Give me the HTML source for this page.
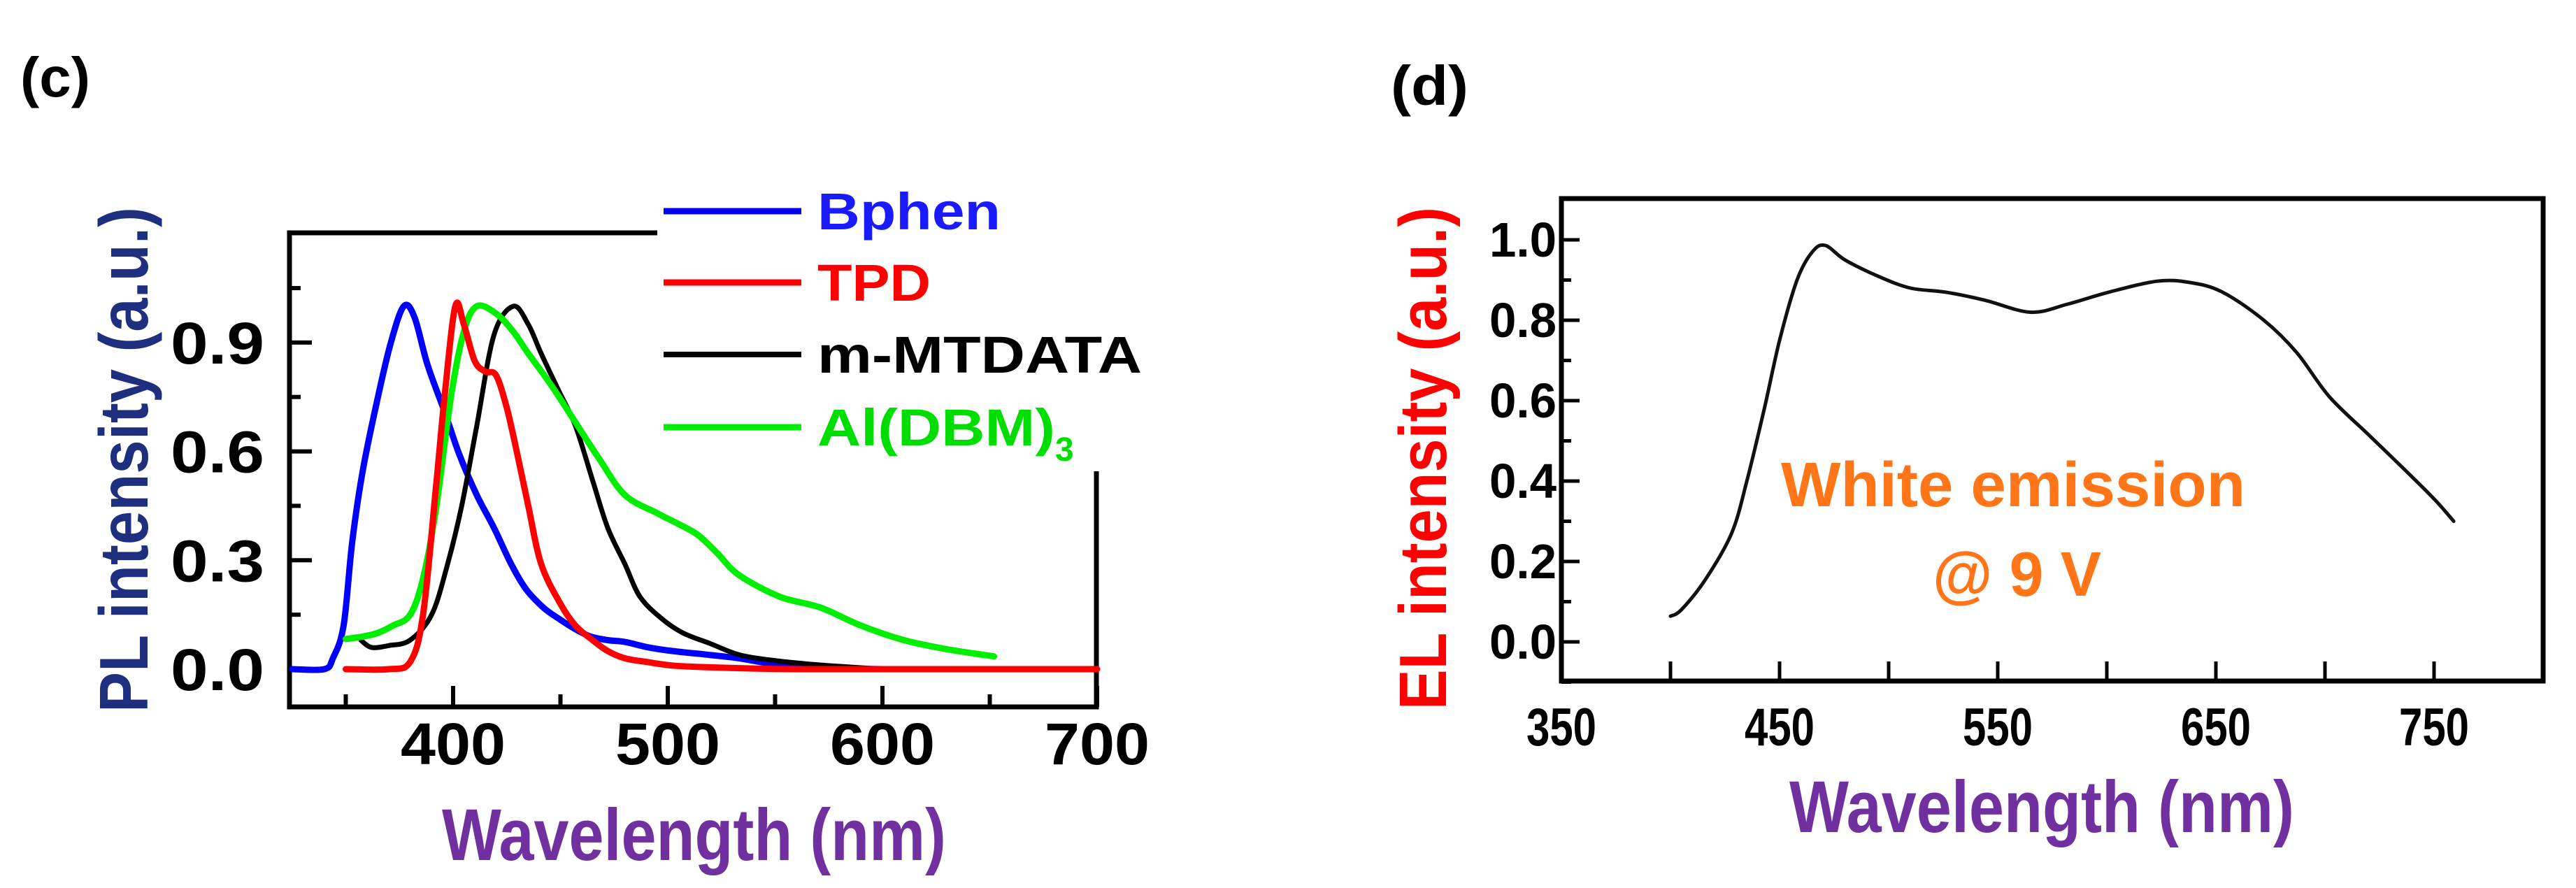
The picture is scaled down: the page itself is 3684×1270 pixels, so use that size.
<!DOCTYPE html>
<html><head><meta charset="utf-8"><style>
html,body{margin:0;padding:0;background:#fff;}
svg{display:block;}
text{font-family:"Liberation Sans",sans-serif;font-weight:bold;}
</style></head><body>
<svg id="fig" width="3684" height="1270" viewBox="0 0 3684 1270" xmlns="http://www.w3.org/2000/svg">
<rect width="3684" height="1270" fill="#fff"/>
<g id="panelC">
<text x="29" y="138" font-size="80" textLength="100" lengthAdjust="spacingAndGlyphs">(c)</text>
<path d="M940,333 H414 V1011 H1568 V674" fill="none" stroke="#000" stroke-width="7"/>
<g id="cTicks"></g>
<g id="cCurves"></g>
<text transform="translate(211,1019) rotate(-90)" font-size="98" fill="#1f2f80" textLength="723" lengthAdjust="spacingAndGlyphs">PL intensity (a.u.)</text>
<text x="632" y="1230" font-size="105" fill="#7030a0" textLength="721" lengthAdjust="spacingAndGlyphs">Wavelength (nm)</text>
<g>
<line x1="949" y1="302" x2="1146" y2="302" stroke="#0000ff" stroke-width="9"/>
<text x="1169" y="328" font-size="74" fill="#1a1aff" textLength="262" lengthAdjust="spacingAndGlyphs">Bphen</text>
<line x1="949" y1="404" x2="1146" y2="404" stroke="#ff0000" stroke-width="9"/>
<text x="1169" y="430" font-size="74" fill="#ff0000" textLength="162" lengthAdjust="spacingAndGlyphs">TPD</text>
<line x1="949" y1="507" x2="1146" y2="507" stroke="#000" stroke-width="8"/>
<text x="1169" y="533" font-size="74" fill="#000" textLength="464" lengthAdjust="spacingAndGlyphs">m-MTDATA</text>
<line x1="949" y1="611" x2="1146" y2="611" stroke="#00ee00" stroke-width="9"/>
<text x="1169" y="637" font-size="74" fill="#00dd00"><tspan textLength="340" lengthAdjust="spacingAndGlyphs">Al(DBM)</tspan><tspan font-size="48" dy="22">3</tspan></text>
</g>
</g>
<g id="panelD">
<text x="1989" y="150" font-size="80" textLength="111" lengthAdjust="spacingAndGlyphs">(d)</text>
<rect x="2233" y="284" width="1404" height="690" fill="none" stroke="#000" stroke-width="7"/>
<g id="dTicks"></g>
<g id="dCurves"></g>
<text transform="translate(2068,1015) rotate(-90)" font-size="96" fill="#ff0000" textLength="719" lengthAdjust="spacingAndGlyphs">EL intensity (a.u.)</text>
<text x="2559" y="1190" font-size="105" fill="#7030a0" textLength="722" lengthAdjust="spacingAndGlyphs">Wavelength (nm)</text>
<text x="2547" y="724" font-size="90" fill="#ff7518" textLength="664" lengthAdjust="spacingAndGlyphs">White emission</text>
<text x="2764" y="852" font-size="90" fill="#ff7518" textLength="241" lengthAdjust="spacingAndGlyphs">@ 9 V</text>
</g>
</svg>
<script>
// ---- Panel (c) data ----
const cXTicks = [400, 500, 600, 700];
const cYTicks = [0.0, 0.3, 0.6, 0.9];
const cYTickLabels = ["0.0", "0.3", "0.6", "0.9"];
const bphenX = [325,340,344,349,353,358,365,371,377,382,388,396,403,411,419,427,434,442,449,457,464,472,480,491,502,518,533,548,564,582,600];
const bphenY = [0,0,0.03,0.12,0.35,0.55,0.75,0.9,1.0,0.97,0.84,0.71,0.59,0.48,0.39,0.29,0.22,0.17,0.14,0.11,0.09,0.08,0.075,0.06,0.05,0.04,0.03,0.015,0.005,0.002,0];
const tpdX = [350,370,380,386,392,396,401,405,410,415,420,425,430,435,441,450,457,465,472,480,490,502,520,560,620,700];
const tpdY = [0,0,0.02,0.15,0.5,0.75,1.0,0.95,0.85,0.82,0.81,0.72,0.59,0.45,0.29,0.18,0.12,0.08,0.05,0.03,0.02,0.01,0.005,0,0,0];
const mtdX = [357,362,370,380,390,397,404,411,419,428,435,441,449,457,465,472,480,487,497,507,520,533,548,564,582,600];
const mtdY = [0.08,0.06,0.065,0.08,0.15,0.28,0.45,0.67,0.92,1.0,0.95,0.87,0.77,0.67,0.52,0.39,0.29,0.2,0.14,0.1,0.07,0.04,0.025,0.015,0.007,0];
const aldX = [350,358,365,372,380,386,392,399,405,411,420,428,435,446,457,468,480,495,505,514,523,533,552,571,590,610,630,652];
const aldY = [0.083,0.09,0.1,0.12,0.15,0.25,0.44,0.75,0.93,1.0,0.98,0.93,0.87,0.78,0.68,0.58,0.48,0.43,0.4,0.37,0.32,0.26,0.2,0.17,0.12,0.08,0.055,0.035];
// ---- Panel (d) data ----
const dXTicks = [350, 450, 550, 650, 750];
const dYTicks = [0.0, 0.2, 0.4, 0.6, 0.8, 1.0];
const dYTickLabels = ["0.0", "0.2", "0.4", "0.6", "0.8", "1.0"];
const elX = [400,405,416,428,435,443,450,458,465,471,480,495,510,526,544,565,582,601,623,638,653,672,687,702,721,740,751,759];
const elY = [0.064,0.08,0.155,0.27,0.4,0.58,0.75,0.9,0.97,0.986,0.95,0.91,0.88,0.87,0.85,0.82,0.84,0.87,0.897,0.894,0.87,0.8,0.72,0.61,0.51,0.41,0.35,0.3];

const NS = "http://www.w3.org/2000/svg";
function mk(tag, attrs, parent){const e=document.createElementNS(NS,tag);for(const k in attrs)e.setAttribute(k,attrs[k]);parent.appendChild(e);return e;}
// axis functions
const cx = v => 648 + (v - 400) * 3.07;
const cy = v => 957 - v * 519;
const dx = v => 2233 + (v - 350) * 3.12;
const dy = v => 918 - v * 575;
function smooth(xs, ys, fx, fy){
  const p = xs.map((x,i)=>[fx(x), fy(ys[i])]);
  let d = "M" + p[0][0].toFixed(1) + "," + p[0][1].toFixed(1);
  for(let i=0;i<p.length-1;i++){
    const p0=p[Math.max(0,i-1)], p1=p[i], p2=p[i+1], p3=p[Math.min(p.length-1,i+2)];
    const c1=[p1[0]+(p2[0]-p0[0])/6, p1[1]+(p2[1]-p0[1])/6];
    const c2=[p2[0]-(p3[0]-p1[0])/6, p2[1]-(p3[1]-p1[1])/6];
    d += " C"+c1[0].toFixed(1)+","+c1[1].toFixed(1)+" "+c2[0].toFixed(1)+","+c2[1].toFixed(1)+" "+p2[0].toFixed(1)+","+p2[1].toFixed(1);
  }
  return d;
}
// panel c ticks
const cT = document.getElementById("cTicks");
for (let v = 350; v <= 700; v += 50) {
  const major = cXTicks.includes(v);
  const t = mk("line",{x1:cx(v),x2:cx(v),y1:1011,y2:major?1011-30:1011-18,stroke:"#000","stroke-width":6},cT);
  
  
}
cXTicks.forEach(v=>{
  const t = mk("text",{x:cx(v),y:1093,"font-size":84,"text-anchor":"middle",textLength:150,lengthAdjust:"spacingAndGlyphs"},cT);
  t.textContent = String(v);
  
  
});
for (let v = 0; v <= 1.06; v += 0.15) {
  const t = mk("line",{x1:414,x2:414+(Math.round(v*100)%30===0?32:16),y1:cy(v),y2:cy(v),stroke:"#000","stroke-width":6},cT);
  
  
}
cYTicks.forEach((v,i)=>{
  const t = mk("text",{x:378,y:cy(v)+30,"font-size":84,"text-anchor":"end",textLength:134,lengthAdjust:"spacingAndGlyphs"},cT);
  t.textContent = cYTickLabels[i];
  
  
});
// panel c curves
const cC = document.getElementById("cCurves");
[[bphenX,bphenY,"#0000ff","series-bphen"],[mtdX,mtdY,"#000000","series-m-mtdata"],[aldX,aldY,"#00ee00","series-al-dbm3"],[tpdX,tpdY,"#ff0000","series-tpd"]].forEach(s=>{
  const p = mk("path",{d:smooth(s[0],s[1],cx,cy),fill:"none",stroke:s[2],"stroke-width":s[2]==="#000000"?7:9,"stroke-linejoin":"round","stroke-linecap":"round"},cC);
  
  
});
// panel d ticks
const dT = document.getElementById("dTicks");
for (let v = 400; v <= 775; v += 50) {
  const t = mk("line",{x1:dx(v),x2:dx(v),y1:974,y2:946,stroke:"#000","stroke-width":5},dT);
  
  
}
dXTicks.forEach(v=>{
  const t = mk("text",{x:dx(v),y:1066,"font-size":76,"text-anchor":"middle",textLength:100,lengthAdjust:"spacingAndGlyphs"},dT);
  t.textContent = String(v);
  
  
});
for (let k = -1; k <= 10; k++) {
  const v = k/10;
  const t = mk("line",{x1:2233,x2:2233+(k%2===0?26:14),y1:dy(v),y2:dy(v),stroke:"#000","stroke-width":5},dT);
  
  
}
dYTicks.forEach((v,i)=>{
  const t = mk("text",{x:2226,y:dy(v)+24,"font-size":70,"text-anchor":"end",textLength:96,lengthAdjust:"spacingAndGlyphs"},dT);
  t.textContent = dYTickLabels[i];
  
  
});
// panel d curve
const dC = document.getElementById("dCurves");
const ep = mk("path",{d:smooth(elX,elY,dx,dy),fill:"none",stroke:"#111","stroke-width":5,"stroke-linejoin":"round","stroke-linecap":"round"},dC);


</script>
</body></html>
